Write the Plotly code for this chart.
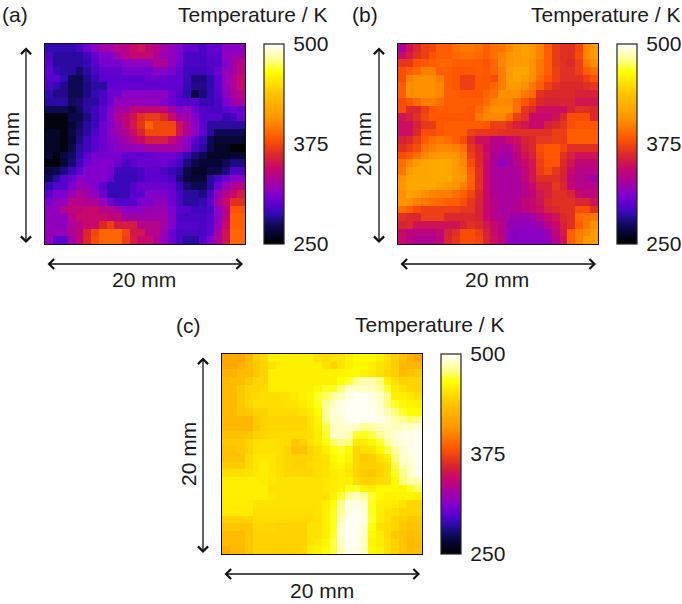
import plotly.graph_objects as go

W, H = 682, 604

temps_a = [
[288,288,288,288,295,305,315,325,325,335,335,345,350,340,335,325,318,312,302,302,295,302,302,315,315,315],
[295,285,285,285,285,292,302,312,312,325,335,342,342,342,330,322,318,310,295,295,295,300,300,318,322,322],
[298,285,285,285,285,290,298,308,308,308,315,318,318,318,330,330,318,308,295,295,295,298,298,312,325,335],
[302,290,285,285,278,285,295,302,302,302,308,308,308,308,315,315,310,302,292,292,292,297,305,318,325,338],
[300,300,288,272,272,282,290,300,300,300,300,300,300,305,305,305,302,302,292,280,280,288,300,318,330,345],
[295,288,282,272,272,280,285,285,302,302,302,302,302,302,302,302,302,302,290,282,282,288,300,318,330,345],
[288,282,282,272,272,280,288,295,305,305,315,315,315,315,315,315,305,298,288,268,280,288,298,315,328,335],
[285,285,285,275,278,285,285,295,305,318,318,318,318,318,318,312,305,298,298,298,290,290,295,310,322,328],
[272,272,272,265,275,285,292,300,312,325,325,340,340,340,340,340,325,312,320,305,298,295,295,300,305,302],
[255,255,255,270,270,280,290,300,315,330,340,350,365,370,370,362,345,325,325,312,298,298,298,290,295,305],
[255,255,255,265,275,285,292,305,312,325,340,352,368,388,375,375,375,350,330,315,300,285,285,285,285,285],
[262,262,255,268,278,285,295,305,315,325,332,345,360,375,375,375,375,350,330,318,300,285,272,272,272,272],
[262,262,255,265,280,292,300,305,312,318,325,335,345,355,355,355,342,328,315,300,290,272,265,265,265,265],
[262,262,255,270,285,292,298,305,310,315,318,320,320,325,325,325,325,325,315,295,285,270,262,262,252,252],
[265,255,268,275,288,300,308,308,308,308,303,302,302,302,306,306,306,300,290,280,272,262,262,262,265,265],
[252,252,265,278,292,305,312,312,312,305,295,300,305,305,305,305,300,295,280,270,265,265,265,272,280,280],
[268,272,280,290,300,312,312,312,308,292,292,292,295,302,302,295,290,285,270,262,262,270,270,280,295,295],
[275,285,298,305,315,312,312,312,305,290,290,290,295,300,300,300,295,280,268,265,265,285,295,305,315,315],
[290,298,298,310,320,318,312,300,290,290,290,298,305,305,305,305,302,290,278,272,272,285,305,320,330,335],
[300,310,310,322,330,325,318,305,290,290,290,300,300,312,312,312,305,295,285,285,280,295,320,335,345,355],
[310,318,318,335,335,330,330,320,305,298,298,298,310,310,318,318,305,295,285,285,288,300,325,345,365,365],
[318,318,335,340,340,345,345,335,335,325,315,315,315,322,322,322,312,298,298,292,292,295,315,335,380,380],
[318,318,318,335,345,345,345,345,340,340,325,325,325,325,325,325,312,295,295,295,295,300,315,338,385,385],
[318,318,318,330,335,345,345,362,372,355,355,355,335,335,335,325,312,298,298,298,295,300,318,345,385,385],
[320,320,320,332,340,360,375,388,388,388,375,352,352,335,335,322,305,295,295,295,295,302,325,350,388,388],
[320,300,300,325,340,362,378,388,388,388,372,355,345,345,330,320,305,295,285,285,298,312,330,350,388,388],
]

temps_b = [
[330,350,362,372,375,385,385,392,395,395,392,385,392,395,402,410,415,410,400,385,370,365,365,375,400,412],
[345,355,365,372,380,385,385,390,392,392,390,385,392,400,408,412,415,410,400,385,370,365,365,378,402,412],
[368,368,380,382,385,388,388,385,385,385,385,380,388,402,408,412,412,405,395,385,370,365,362,372,395,405],
[378,385,390,398,398,385,385,382,382,382,385,382,388,398,412,418,418,405,395,385,372,365,365,372,385,392],
[378,400,405,405,405,398,385,382,372,372,382,382,378,398,412,418,412,405,390,380,372,365,365,365,372,380],
[385,405,405,405,405,402,385,382,372,372,382,382,388,398,412,412,405,395,385,372,365,362,362,362,365,368],
[385,405,405,405,405,402,385,385,382,382,382,388,392,405,405,405,395,388,365,362,362,362,362,358,358,358],
[378,382,390,398,398,392,385,385,385,385,385,392,400,402,402,392,382,372,362,358,358,360,360,352,352,352],
[378,362,362,372,382,385,385,385,385,382,390,400,405,405,405,392,368,362,348,348,348,348,358,365,365,362],
[350,358,365,375,382,382,382,382,382,382,395,402,402,402,392,372,365,345,345,345,350,362,378,378,378,362],
[348,348,358,368,370,382,385,385,385,385,385,382,372,372,365,358,352,345,345,358,362,368,378,382,382,382],
[348,348,362,378,378,382,385,385,385,372,368,368,368,365,365,365,365,365,365,365,372,372,385,385,385,385],
[358,362,372,385,392,395,392,385,378,362,348,348,335,335,345,348,358,362,368,368,372,372,385,385,385,385],
[365,370,378,392,398,402,402,398,392,368,358,345,335,330,332,342,355,362,378,382,382,375,365,365,365,365],
[378,382,392,402,408,410,410,408,400,372,362,348,332,325,325,338,350,358,375,382,382,365,358,350,350,350],
[392,402,412,418,420,420,418,412,402,378,362,345,328,318,325,335,345,352,372,380,380,362,352,340,340,340],
[395,412,418,418,420,420,418,412,405,385,365,345,330,328,328,328,340,352,370,378,368,360,345,335,335,335],
[405,418,420,420,420,420,420,412,408,388,365,345,330,328,328,328,340,352,365,365,365,358,340,335,332,325],
[408,420,420,420,420,415,412,408,398,385,365,345,332,328,328,328,335,345,358,358,368,360,342,335,335,335],
[405,415,412,405,400,398,398,392,385,375,362,345,332,328,328,328,335,340,352,358,365,365,360,345,340,340],
[408,405,400,395,392,390,385,385,378,368,360,345,335,328,328,332,340,345,350,362,365,365,365,360,360,350],
[392,385,378,372,372,372,372,372,368,368,358,345,335,328,328,332,338,342,348,358,362,365,365,378,378,365],
[365,362,362,372,372,372,362,362,362,362,358,345,335,330,325,322,322,325,335,345,350,362,365,388,392,395],
[360,362,350,350,350,350,350,350,358,365,362,352,345,335,322,318,318,318,325,335,345,358,365,385,395,405],
[345,338,338,338,338,342,358,365,378,378,372,358,345,335,318,315,315,315,315,322,340,355,385,398,402,412],
[345,338,332,332,332,340,360,368,378,378,375,360,348,338,318,315,315,315,315,318,335,350,385,398,412,412],
]

temps_c = [
[420,422,420,430,442,448,458,458,458,458,458,458,452,448,452,452,458,462,462,462,458,450,442,435,425,418],
[418,418,425,432,440,445,452,458,458,458,458,458,458,452,445,452,458,462,462,458,452,448,442,430,428,428],
[425,425,432,432,440,445,458,458,458,458,458,458,458,458,458,460,462,462,460,456,450,446,442,432,435,440],
[430,432,432,440,445,445,458,458,458,458,458,458,458,458,458,465,470,480,485,485,478,460,450,445,445,445],
[432,432,440,445,445,448,458,458,458,458,458,458,462,468,468,478,490,490,490,488,482,470,455,450,445,445],
[432,432,440,445,448,450,450,450,452,455,458,462,470,475,482,488,495,498,498,495,490,480,460,458,455,450],
[432,432,440,445,450,450,450,450,452,452,455,462,468,480,488,495,498,498,498,496,492,478,470,462,460,458],
[432,432,438,440,444,444,448,448,448,448,452,455,464,482,492,495,498,498,498,498,494,486,478,470,464,464],
[430,430,430,430,440,444,446,446,446,446,446,452,460,480,490,492,498,498,498,498,496,492,485,480,475,478],
[430,430,430,430,438,444,446,446,446,446,446,452,458,472,490,490,492,490,480,484,488,490,488,490,490,492],
[436,436,436,438,444,446,448,448,448,448,448,450,456,470,490,490,486,470,468,472,480,488,492,495,496,498],
[440,440,440,445,450,452,452,450,448,440,442,452,456,466,475,480,478,455,456,462,470,482,490,495,496,498],
[436,436,440,445,452,452,452,450,445,436,436,446,450,458,466,470,462,445,450,452,462,472,482,492,496,498],
[436,436,436,448,454,454,454,450,446,444,444,446,448,452,462,466,460,446,440,442,452,458,478,490,492,498],
[442,442,442,448,454,456,454,450,446,444,444,448,450,452,460,462,456,446,442,442,444,450,472,488,490,498],
[450,450,450,452,454,456,454,450,446,446,446,446,450,452,456,458,454,446,440,438,444,450,468,480,490,498],
[458,458,458,458,458,456,454,452,452,452,452,452,452,454,456,458,458,450,444,444,448,450,462,478,485,485],
[458,458,458,458,458,458,452,452,452,452,452,452,452,454,456,460,468,470,460,458,462,462,462,462,468,475],
[458,458,458,458,458,458,454,452,452,452,452,452,452,452,460,470,482,488,482,470,462,458,460,460,460,458],
[456,456,456,456,452,452,452,452,452,452,452,452,452,458,466,480,495,496,492,468,458,456,456,452,446,446],
[456,456,456,456,450,450,450,450,450,450,450,450,452,458,468,482,495,498,495,468,456,452,450,446,446,446],
[444,444,444,444,448,448,448,448,448,448,448,448,450,458,468,488,498,498,495,470,456,452,446,442,440,440],
[438,438,438,438,446,446,446,444,444,444,444,452,452,458,468,492,498,498,492,465,452,448,446,440,436,438],
[432,432,432,438,444,444,444,444,444,444,444,452,452,458,470,492,498,498,490,462,456,448,440,438,432,436],
[432,432,432,438,444,444,444,444,444,444,444,452,455,462,472,490,498,498,490,460,456,450,444,438,430,434],
[424,430,430,438,444,444,444,444,444,444,446,455,458,464,472,488,496,496,488,462,458,450,444,438,432,434],
]

t_ticks = [250, 375, 500]
panel_labels = ["(a)", "(b)", "(c)"]
bar_title = "Temperature / K"
size_label = "20 mm"

stops = [
    [0.00, "#000000"], [0.05, "#05052a"], [0.10, "#120a60"], [0.15, "#300ab0"],
    [0.20, "#5c00d0"], [0.25, "#8400cc"], [0.31, "#a800a0"], [0.38, "#c8086a"],
    [0.45, "#dc2a28"], [0.525, "#ff5400"], [0.62, "#ff9000"], [0.75, "#ffc400"],
    [0.86, "#ffff00"], [0.92, "#ffff90"], [1.00, "#ffffff"],
]

FONT = "Liberation Sans, Arial, sans-serif"
INK = "#1a1a1a"
FS = 21

panels = [
    dict(z=temps_a, L=45, T=44, bar=264, lab_x=0, lab_y=14, tr=329, tt=14, vx=11, hy=280, hx=144),
    dict(z=temps_b, L=398, T=44, bar=617, lab_x=350, lab_y=14, tr=682, tt=14, vx=363, hy=280, hx=497),
    dict(z=temps_c, L=222, T=354, bar=441, lab_x=174, lab_y=325, tr=506, tt=324, vx=188, hy=590, hx=322),
]
SIDE = 200

def px(x): return x / W
def py(y): return 1 - y / H

fig = go.Figure()
ann = []
layout = {}
for i, p in enumerate(panels):
    assert len(p["z"]) == 26 and all(len(r) == 26 for r in p["z"])
    n = "" if i == 0 else str(i + 1)
    fig.add_trace(go.Heatmap(
        z=p["z"], xaxis="x" + n, yaxis="y" + n, zmin=250, zmax=500,
        colorscale=stops,
        colorbar=dict(
            x=px(p["bar"]), xanchor="left", xpad=0, thickness=20, thicknessmode="pixels",
            y=py(p["T"]), yanchor="top", ypad=0, len=SIDE, lenmode="pixels",
            tickvals=t_ticks, ticktext=[str(v) for v in t_ticks], ticks="outside", ticklen=5,
            tickcolor="rgba(0,0,0,0)", tickfont=dict(family=FONT, size=FS, color=INK),
            outlinecolor="#222222", outlinewidth=1.2,
        ),
    ))
    axis = dict(showticklabels=False, ticks="", showgrid=False, zeroline=False,
                showline=True, mirror=True, linecolor="#111111", linewidth=1.4)
    layout["xaxis" + n] = dict(axis, domain=[px(p["L"]), px(p["L"] + SIDE)], anchor="y" + n)
    layout["yaxis" + n] = dict(axis, domain=[py(p["T"] + SIDE), py(p["T"])], anchor="x" + n, autorange="reversed")

    base = dict(xref="paper", yref="paper", showarrow=False,
                font=dict(family=FONT, size=FS, color=INK))
    ann.append(dict(base, text=panel_labels[i], x=px(p["lab_x"]), y=py(p["lab_y"]), xanchor="left", yanchor="middle"))
    ann.append(dict(base, text=bar_title, x=px(p["tr"]), y=py(p["tt"]), xanchor="right", yanchor="middle"))
    ann.append(dict(base, text=size_label, x=px(p["hx"]), y=py(p["hy"]), xanchor="center", yanchor="middle"))
    ann.append(dict(base, text=size_label, x=px(p["vx"]), y=py(p["T"] + 100), xanchor="center", yanchor="middle", textangle=-90))

    arrow = dict(xref="paper", yref="paper", axref="pixel", ayref="pixel", text="", showarrow=True,
                 arrowhead=4, startarrowhead=4, arrowside="end+start", arrowsize=1.5, startarrowsize=1.5,
                 arrowwidth=1.3, arrowcolor="#111111", standoff=0, startstandoff=0)
    ann.append(dict(arrow, x=px(p["L"] + 198), y=py(p["T"] + 220), ax=-197, ay=0))
    ann.append(dict(arrow, x=px(p["L"] - 19), y=py(p["T"] + 199), ax=0, ay=-197))

fig.update_layout(width=W, height=H, margin=dict(l=0, r=0, t=0, b=0),
                  paper_bgcolor="white", plot_bgcolor="white", annotations=ann,
                  showlegend=False, **layout)
fig.write_html("out.html", config={"displayModeBar": False},
               post_script="document.body.style.margin='0';document.body.style.overflow='hidden';")
